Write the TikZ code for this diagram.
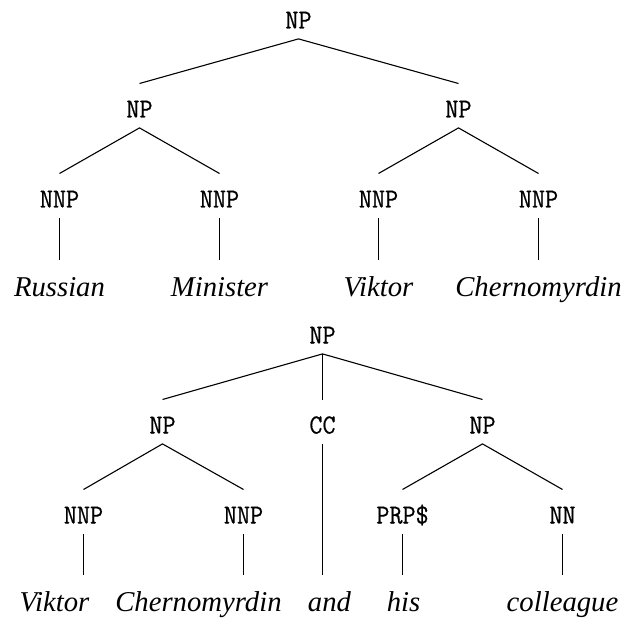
\documentclass[tikz,border=0pt]{standalone}
\usepackage{fontspec}
\newfontfamily\wordfont{Liberation Serif}
\newfontfamily\catfont[FakeBold=0.6,FakeStretch=0.92]{Latin Modern Mono}
\begin{document}
\begin{tikzpicture}[x=0.5pt,y=-0.5pt,
  cat/.style={anchor=base,inner sep=0pt,text height=16.8pt,text depth=5pt,
    font=\fontsize{13.8pt}{15pt}\selectfont\catfont},
  word/.style={anchor=base,inner sep=0pt,text height=18pt,text depth=5pt,
    font=\fontsize{14.35pt}{16pt}\selectfont\wordfont\itshape},
  branch/.style={line width=0.55pt}]
\useasboundingbox (-0.5,0) rectangle (624.5,619);

% first tree: Russian Minister Viktor Chernomyrdin
\node[cat] (a)   at (298,28.5)  {NP};
\node[cat] (a1)  at (139,117.5) {NP};
\node[cat] (a2)  at (458,117.5) {NP};
\node[cat] (a11) at (59,207.5)  {NNP};
\node[cat] (a12) at (219,207.5) {NNP};
\node[cat] (a21) at (378,207.5) {NNP};
\node[cat] (a22) at (538,207.5) {NNP};
\node[word] (w1) at (59,296.5)  {Russian};
\node[word] (w2) at (219,296.5) {Minister};
\node[word] (w3) at (378,296.5) {Viktor};
\node[word] (w4) at (538,296.5) {Chernomyrdin};

\draw[branch] (a1.north) -- (a.south) -- (a2.north);
\draw[branch] (a11.north) -- (a1.south) -- (a12.north);
\draw[branch] (a21.north) -- (a2.south) -- (a22.north);
\draw[branch] (a11.south) -- (w1.north);
\draw[branch] (a12.south) -- (w2.north);
\draw[branch] (a21.south) -- (w3.north);
\draw[branch] (a22.south) -- (w4.north);

% second tree: Viktor Chernomyrdin and his colleague
\node[cat] (b)   at (322,343.5) {NP};
\node[cat] (b1)  at (162,433.5) {NP};
\node[cat] (b2)  at (322,433.5) {CC};
\node[cat] (b3)  at (482,433.5) {NP};
\node[cat] (b11) at (83,523.5)  {NNP};
\node[cat] (b12) at (243,523.5) {NNP};
\node[cat] (b31) at (402,523.5) {PRP\$};
\node[cat] (b32) at (562,523.5) {NN};
\node[word] (v1) at (54,611)  {Viktor};
\node[word] (v2) at (198,611) {Chernomyrdin};
\node[word] (v3) at (329,611) {and};
\node[word] (v4) at (403,611) {his};
\node[word] (v5) at (562,611) {colleague};

\draw[branch] (b1.north) -- (b.south) -- (b3.north);
\draw[branch] (b.south) -- (b.south |- b2.north);
\draw[branch] (b11.north) -- (b1.south) -- (b12.north);
\draw[branch] (b31.north) -- (b3.south) -- (b32.north);
\draw[branch] (b11.south) -- (b11.south |- v1.north);
\draw[branch] (b12.south) -- (b12.south |- v2.north);
\draw[branch] (b2.south) -- (b2.south |- v3.north);
\draw[branch] (b31.south) -- (b31.south |- v4.north);
\draw[branch] (b32.south) -- (b32.south |- v5.north);
\end{tikzpicture}
\end{document}
